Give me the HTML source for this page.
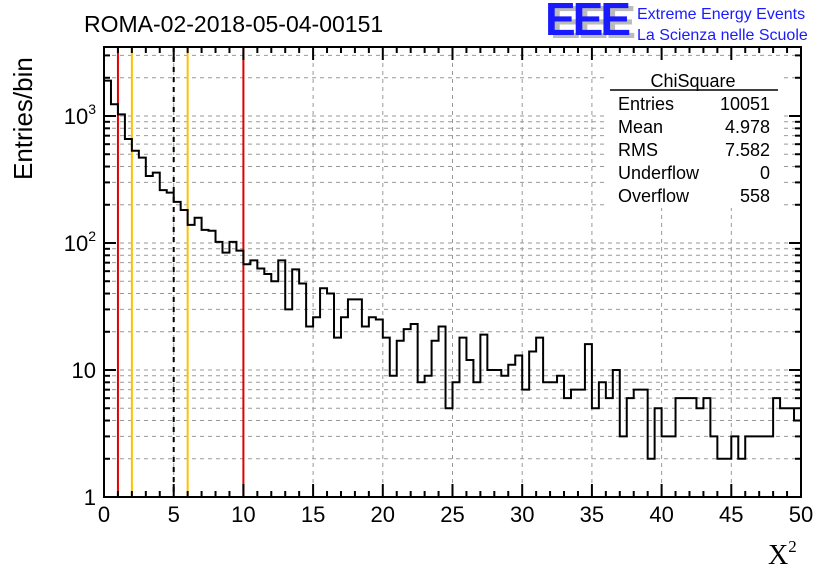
<!DOCTYPE html>
<html><head><meta charset="utf-8"><style>
body{margin:0;background:#fff;width:836px;height:572px;overflow:hidden}
svg{display:block;font-family:"Liberation Sans",sans-serif}
</style></head><body>
<svg id="chart" width="836" height="572" viewBox="0 0 836 572">
<rect width="836" height="572" fill="#fff"/>
<g id="grid"></g>
<g id="vlines"></g>
<path id="hist" fill="none" stroke="#000" stroke-width="2"/>
<g id="stats">
<rect x="608" y="62" width="172" height="146" fill="#fff"/>
<text x="693" y="87" font-size="18" text-anchor="middle">ChiSquare</text>
<line x1="610" y1="90" x2="778" y2="90" stroke="#000" stroke-width="1.5"/>
<g font-size="18">
<text x="618" y="110">Entries</text><text x="770" y="110" text-anchor="end">10051</text>
<text x="618" y="133">Mean</text><text x="770" y="133" text-anchor="end">4.978</text>
<text x="618" y="156">RMS</text><text x="770" y="156" text-anchor="end">7.582</text>
<text x="618" y="179">Underflow</text><text x="770" y="179" text-anchor="end">0</text>
<text x="618" y="202">Overflow</text><text x="770" y="202" text-anchor="end">558</text>
</g></g>
<rect x="104" y="47" width="697" height="450" fill="none" stroke="#000" stroke-width="2"/>
<g id="ticks"></g>
<g id="labels" font-size="22"></g>
<text x="84" y="32" font-size="23">ROMA-02-2018-05-04-00151</text>
<g>
<text x="550" y="38" font-size="46" font-weight="bold" fill="#bbb" letter-spacing="-3">EEE</text>
<text x="545" y="35" font-size="46" font-weight="bold" fill="#1a1aff" letter-spacing="-3">EEE</text>
<text x="637" y="19" font-size="16" fill="#1a1aff">Extreme Energy Events</text>
<text x="637" y="40" font-size="16" fill="#1a1aff">La Scienza nelle Scuole</text>
</g>
<text x="32" y="180" font-size="26" transform="rotate(-90 32 180)">Entries/bin</text>
<text x="768" y="564" font-size="28" font-family="Liberation Serif">X<tspan font-size="17" dy="-12">2</tspan></text>
</svg>
<script>
const counts=[1900,1237,1030,659,533,470,337,358,261,249,211,182,139,158,127,125,102,84,102,87,
68,73,63,57,50,73,30,62,48,22,26,44,40,18,26,36,36,22,26,25,
18,9,17,21,23,8,9,17,22,5,8,18,12,8,19,10,10,9,11,13,
7,14,18,8,8,9,6,7,7,16,5,8,6,10,3,6,7,7,2,5,
3,3,6,6,6,5,6,3,2,2,3,2,3,3,3,3,6,5,5,4];
const xTicks=[0,5,10,15,20,25,30,35,40,45,50];
const yTickLabels=["1","10","10²","10³"];
const cutLines=[{v:1,c:"#e00000"},{v:10,c:"#e00000"},{v:2,c:"#ffc000"},{v:6,c:"#ffc000"},{v:5,c:"#000",d:"5,5"}];
const X0=104,X1=801,Y0=497,Y1=47,DEC=127,binW=0.5;
const xs=v=>X0+(v/50)*(X1-X0);
const ys=v=>Y0-DEC*Math.log10(v);
const NS="http://www.w3.org/2000/svg";
function mk(p,t,a){const e=document.createElementNS(NS,t);for(const k in a)e.setAttribute(k,a[k]);p.appendChild(e);return e;}
const grid=document.getElementById('grid'),ticks=document.getElementById('ticks'),labels=document.getElementById('labels');
for(const t of xTicks){if(t>0&&t<50){const l=mk(grid,'line',{x1:xs(t),x2:xs(t),y1:Y1,y2:Y0,stroke:'#999','stroke-dasharray':'4,4'});

}}
for(let d=0;d<4;d++)for(let m=1;m<10;m++){const v=m*Math.pow(10,d);const y=ys(v);if(y<Y1||y>=Y0)continue;
const l=mk(grid,'line',{x1:X0,x2:X1,y1:y,y2:y,stroke:'#999','stroke-dasharray':'4,4'});


const L=m==1?12:6;
mk(ticks,'line',{x1:X0,x2:X0+L,y1:y,y2:y,stroke:'#000','stroke-width':2});
mk(ticks,'line',{x1:X1,x2:X1-L,y1:y,y2:y,stroke:'#000','stroke-width':2});}
for(let i=0;i<=50;i++){const L=i%5==0?13:6;const x=xs(i);
mk(ticks,'line',{x1:x,x2:x,y1:Y0,y2:Y0-L,stroke:'#000','stroke-width':2});
mk(ticks,'line',{x1:x,x2:x,y1:Y1,y2:Y1+L,stroke:'#000','stroke-width':2});}
xTicks.forEach(t=>{const e=mk(labels,'text',{x:xs(t),y:522,'text-anchor':'middle'});e.textContent=t;

});
yTickLabels.forEach((s,i)=>{const e=mk(labels,'text',{x:96,y:ys(Math.pow(10,i))+8,'text-anchor':'end'});
if(i<2)e.textContent=s;else{e.textContent='10';const ts=mk(e,'tspan',{'font-size':14,dy:-10});ts.textContent=String(i);}

});
const vl=document.getElementById('vlines');
cutLines.forEach(c=>{const l=mk(vl,'line',{x1:xs(c.v),x2:xs(c.v),y1:Y1,y2:Y0,stroke:c.c,'stroke-width':2});if(c.d)l.setAttribute('stroke-dasharray',c.d);

});
let d='M'+X0+','+Y0;
counts.forEach((c,i)=>{const y=ys(c);d+=' L'+xs(i*binW)+','+y+' L'+xs((i+1)*binW)+','+y;});
d+=' L'+X1+','+Y0;
document.getElementById('hist').setAttribute('d',d);
</script>
</body></html>
